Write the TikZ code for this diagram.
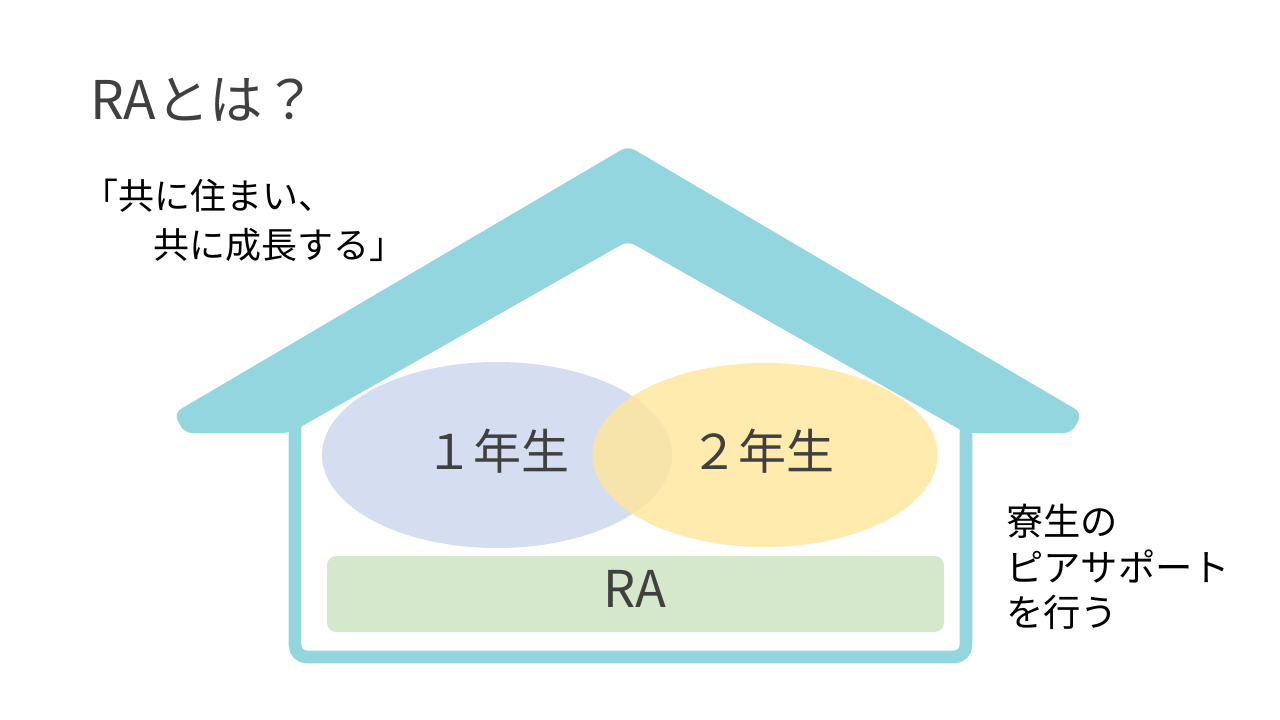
\documentclass[tikz,border=0pt]{standalone}
\usepackage{fontspec}
\setmainfont{Noto Sans CJK JP}
\usetikzlibrary{shapes.geometric}
\definecolor{roofblue}{HTML}{94D6E0}
\definecolor{firstblue}{HTML}{D5DDF1}
\definecolor{secondyellow}{HTML}{FFE699}
\definecolor{ragreen}{HTML}{D5E8CC}
\definecolor{inkgray}{HTML}{404040}
\tikzset{x=0.75pt, y=-0.75pt,
  roof/.style={fill=roofblue, rounded corners=6pt},
  wall/.style={draw=roofblue, line width=9.5pt, rounded corners=9pt},
  grade/.style={ellipse, inner sep=0pt},
  big/.style={font=\fontsize{36}{43}\selectfont, text=inkgray, inner sep=0pt},
  note/.style={font=\fontsize{27}{32}\selectfont, inner sep=0pt, anchor=base west},
  peer/.style={font=\fontsize{28}{34}\selectfont, inner sep=0pt, anchor=base west}}

\begin{document}
\begin{tikzpicture}
    \fill[white] (0,0) rectangle (1280,720);
    \useasboundingbox (0,0) rectangle (1280,720);

    % house
    \draw[wall] (295,425) -- (295,657) -- (966,657) -- (966,425);
    \fill[roof] (628,146) -- (174,413) -- (184,433) -- (290,433) -- (628,241)
        -- (966,433) -- (1072,433) -- (1082,413) -- cycle;

    \node[grade, fill=firstblue, minimum width=262.5pt, minimum height=139.5pt] (first) at (497,455) {};
    \node[grade, fill=secondyellow, fill opacity=0.8, minimum width=258.75pt, minimum height=138pt] (second) at (765,455) {};
    \node[big] (firstname) at (497,451) {１年生};
    \node[big] (secondname) at (762,451) {２年生};
    \node[fill=ragreen, rounded corners=7pt, minimum width=462.75pt, minimum height=57pt] (ra) at (635.5,594) {};
    \node[big, font=\fontsize{38}{45}\selectfont] (raname) at (635,589) {RA};

    % texts
    \node[big, anchor=base west, font=\fontsize{40}{48}\selectfont] (title) at (90,120) {RAとは？};
    \node[note] (motto) at (82,210) {「共に住まい、};
    \node[note] (growth) at (153,258) {共に成長する」};
    \node[peer] (dorm) at (1006,535) {寮生の};
    \node[peer] (support) at (1006,581) {ピアサポート};
    \node[peer] (act) at (1006,626) {を行う};
\end{tikzpicture}
\end{document}
